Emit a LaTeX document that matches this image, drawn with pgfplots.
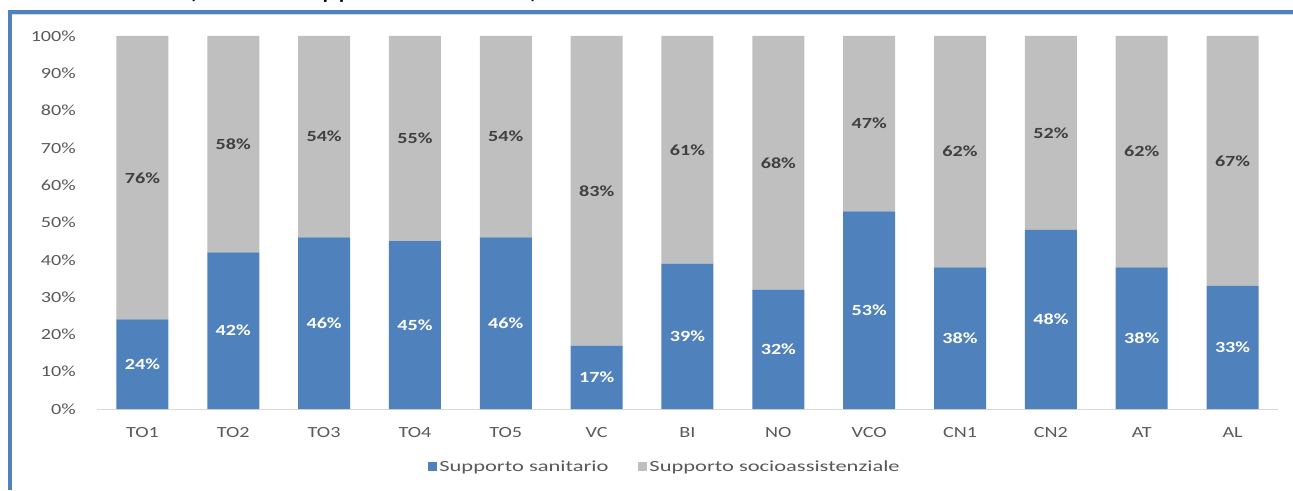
\documentclass[border=0pt]{standalone}
\usepackage{fontspec}
\setmainfont{Carlito}[FakeStretch=1.3]
\newfontfamily\legfont{Carlito}[FakeStretch=1.45]
\usepackage{pgfplots}
\pgfplotsset{compat=1.18}
\definecolor{sanblue}{HTML}{4F81BD}
\definecolor{socgray}{HTML}{BFBFBF}
\definecolor{ticklab}{HTML}{595959}
\definecolor{lablgray}{HTML}{404040}
\definecolor{axisline}{HTML}{D9D9D9}
\definecolor{frameblue}{HTML}{4F81BD}
\begin{document}
\begin{tikzpicture}
\path[use as bounding box] (0pt,0pt) rectangle (1293pt,490pt);
\begin{scope}
\clip (0pt,0pt) rectangle (1293pt,490pt);
\node[anchor=base west, inner sep=0pt, font=\fontsize{24}{28}\selectfont] at (187pt,491pt) {(Area di supporto nelle ASL)};
\end{scope}
\draw[axisline, line width=1pt] (12pt,475pt) -- (1293pt,475pt);
\draw[frameblue, line width=4pt] (8pt,478pt) -- (1293pt,478pt);
\draw[frameblue, line width=4pt] (10pt,0pt) -- (10pt,480pt);
\begin{axis}[
  at={(97pt,81pt)}, anchor=south west,
  scale only axis, width=1181pt, height=373pt,
  xmin=-0.5, xmax=12.5, ymin=0, ymax=100,
  ybar stacked, bar width=52pt,
  axis x line*=bottom, axis y line*=left,
  y axis line style={draw=none},
  x axis line style={draw=axisline, line width=1pt, -},
  major tick length=0pt,
  xtick={0,...,12},
  xticklabels={TO1,TO2,TO3,TO4,TO5,VC,BI,NO,VCO,CN1,CN2,AT,AL},
  ytick={0,10,...,100},
  yticklabels={0\%,10\%,20\%,30\%,40\%,50\%,60\%,70\%,80\%,90\%,100\%},
  tick label style={font=\fontsize{15.5}{18}\selectfont, text=ticklab},
  yticklabel style={inner sep=0pt, anchor=east, xshift=-21pt},
  xticklabel style={inner sep=0pt, anchor=north, yshift=-18pt},
  legend style={at={(0.481,-0.155)}, anchor=center, draw=none,
    font=\legfont\fontsize{15.5}{18}\selectfont, text=ticklab,
    /tikz/every even column/.append style={column sep=28pt}},
  legend columns=2,
  clip=false,
]
\addplot[fill=sanblue, draw=none,
  legend image code/.code={\fill[sanblue] (0pt,-4.5pt) rectangle (9pt,4.5pt);}]
  coordinates {(0,24) (1,42) (2,46) (3,45) (4,46) (5,17) (6,39) (7,32) (8,53) (9,38) (10,48) (11,38) (12,33)};
\addlegendentry{Supporto sanitario}
\addplot[fill=socgray, draw=none,
  legend image code/.code={\fill[socgray] (0pt,-4.5pt) rectangle (9pt,4.5pt);}]
  coordinates {(0,76) (1,58) (2,54) (3,55) (4,54) (5,83) (6,61) (7,68) (8,47) (9,62) (10,52) (11,62) (12,67)};
\addlegendentry{Supporto socioassistenziale}
\end{axis}
\begin{axis}[
  at={(97pt,81pt)}, anchor=south west,
  scale only axis, width=1181pt, height=373pt,
  xmin=-0.5, xmax=12.5, ymin=0, ymax=100,
  hide axis, clip=false,
]
\addplot[draw=none, mark=none, nodes near coords, point meta=explicit symbolic,
  nodes near coords align=center,
  every node near coord/.append style={anchor=center, inner sep=0pt, font=\bfseries\fontsize{15.5}{18}\selectfont, text=white}]
  coordinates {(0,12)[24\%] (1,21)[42\%] (2,23)[46\%] (3,22.5)[45\%] (4,23)[46\%] (5,8.5)[17\%] (6,19.5)[39\%] (7,16)[32\%] (8,26.5)[53\%] (9,19)[38\%] (10,24)[48\%] (11,19)[38\%] (12,16.5)[33\%]};
\addplot[draw=none, mark=none, nodes near coords, point meta=explicit symbolic,
  nodes near coords align=center,
  every node near coord/.append style={anchor=center, inner sep=0pt, font=\bfseries\fontsize{15.5}{18}\selectfont, text=lablgray}]
  coordinates {(0,62)[76\%] (1,71)[58\%] (2,73)[54\%] (3,72.5)[55\%] (4,73)[54\%] (5,58.5)[83\%] (6,69.5)[61\%] (7,66)[68\%] (8,76.5)[47\%] (9,69)[62\%] (10,74)[52\%] (11,69)[62\%] (12,66.5)[67\%]};
\end{axis}
\end{tikzpicture}
\end{document}
